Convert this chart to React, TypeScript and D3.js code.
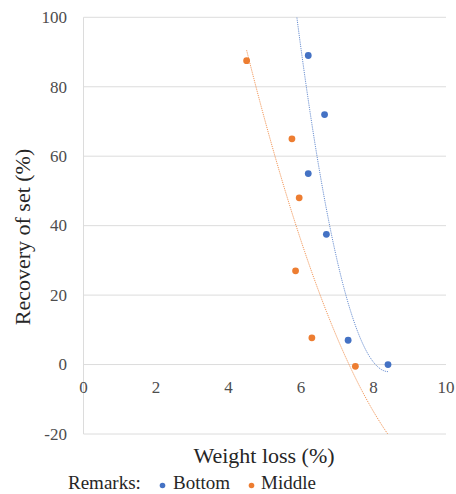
import React from "react";
import * as d3 from "d3";

// values
const bottomX = [6.2, 6.65, 6.2, 6.7, 7.3, 8.4];
const bottomY = [89, 72, 55, 37.5, 7, 0];
const middleX = [4.5, 5.75, 5.95, 5.85, 6.3, 7.5];
const middleY = [87.5, 65, 48, 27, 7.7, -0.5];

// trendline x extent (with forecast) for each series
const bottomTrend = [5.2, 8.4];
const middleTrend = [4.5, 8.5];

const xTicks = [0, 2, 4, 6, 8, 10];
const yTicks = [-20, 0, 20, 40, 60, 80, 100];

const BLUE = "#4472C4";
const ORANGE = "#ED7D31";

const width = 456;
const height = 494;
const plot = { left: 83.5, right: 446, top: 17.3, bottom: 434 };

// least squares fit y = c0 + c1 x + c2 x^2
function quadFit(xs: number[], ys: number[]) {
  const mx = d3.mean(xs) as number;
  const u = xs.map((x) => x - mx);
  const n = xs.length;
  const s2 = d3.sum(u, (v) => v * v);
  const s3 = d3.sum(u, (v) => v * v * v);
  const s4 = d3.sum(u, (v) => v * v * v * v);
  const sy = d3.sum(ys);
  const suy = d3.sum(u, (v, i) => v * ys[i]);
  const su2y = d3.sum(u, (v, i) => v * v * ys[i]);
  // solve 3x3 system (sum u = 0)
  const A = [
    [n, 0, s2],
    [0, s2, s3],
    [s2, s3, s4],
  ];
  const b = [sy, suy, su2y];
  for (let i = 0; i < 3; i++) {
    for (let k = i + 1; k < 3; k++) {
      const f = A[k][i] / A[i][i];
      for (let j = i; j < 3; j++) A[k][j] -= f * A[i][j];
      b[k] -= f * b[i];
    }
  }
  const c = [0, 0, 0];
  for (let i = 2; i >= 0; i--) {
    let s = b[i];
    for (let j = i + 1; j < 3; j++) s -= A[i][j] * c[j];
    c[i] = s / A[i][i];
  }
  return (x: number) => c[0] + c[1] * (x - mx) + c[2] * (x - mx) * (x - mx);
}

export default function App() {
  const x = d3.scaleLinear().domain([0, 10]).range([plot.left, plot.right]);
  const y = d3.scaleLinear().domain([-20, 100]).range([plot.bottom, plot.top]);

  const series = [
    { name: "Bottom", xs: bottomX, ys: bottomY, color: BLUE, range: bottomTrend },
    { name: "Middle", xs: middleX, ys: middleY, color: ORANGE, range: middleTrend },
  ];

  const line = d3
    .line<number[]>()
    .x((d) => x(d[0]))
    .y((d) => y(d[1]));

  return (
    <svg
      width={width}
      height={height}
      fontFamily="Liberation Serif"
      style={{ position: "absolute", left: 0, top: 0, background: "#fff", fontFamily: "Liberation Serif" }}
    >
      <defs>
        <clipPath id="plotClip">
          <rect x={plot.left} y={plot.top} width={plot.right - plot.left} height={plot.bottom - plot.top} />
        </clipPath>
      </defs>

      {yTicks.map((t) => (
        <g key={t}>
          <line x1={plot.left} x2={plot.right} y1={y(t)} y2={y(t)} stroke="#dcdcdc" strokeWidth={1} />
          <text x={67} y={y(t)} dy="0.34em" textAnchor="end" fontSize={17} fill="#4d4d4d">
            {t}
          </text>
        </g>
      ))}
      <line x1={x(0)} x2={x(0)} y1={plot.top} y2={plot.bottom} stroke="#dcdcdc" strokeWidth={1} />

      {xTicks.map((t) => (
        <text key={t} x={x(t)} y={y(0) + 28} textAnchor="middle" fontSize={17} fill="#4d4d4d">
          {t}
        </text>
      ))}

      <g clipPath="url(#plotClip)">
        {series.map((s) => {
          const f = quadFit(s.xs, s.ys);
          const pts = d3.range(0, 121).map((i) => {
            const xv = s.range[0] + ((s.range[1] - s.range[0]) * i) / 120;
            return [xv, f(xv)];
          });
          return (
            <path
              key={s.name}
              d={line(pts) || ""}
              fill="none"
              stroke={s.color}
              strokeWidth={1}
              strokeDasharray="1.2 1"
              opacity={0.8}
            />
          );
        })}
      </g>

      {series.map((s) =>
        s.xs.map((xv, i) => (
          <circle key={s.name + i} cx={x(xv)} cy={y(s.ys[i])} r={3.4} fill={s.color} />
        ))
      )}

      <text x={264} y={463} textAnchor="middle" fontSize={22} fill="#262626">
        Weight loss (%)
      </text>
      <text transform="translate(30, 237) rotate(-90)" textAnchor="middle" fontSize={22} fill="#262626">
        Recovery of set (%)
      </text>

      <text x={68} y={489} fontSize={19} fill="#262626">
        Remarks:
      </text>
      <circle cx={162.5} cy={485.5} r={2.8} fill={BLUE} />
      <text x={173} y={489} fontSize={19} fill="#262626">
        Bottom
      </text>
      <circle cx={251.5} cy={485.5} r={2.8} fill={ORANGE} />
      <text x={261} y={489} fontSize={19} fill="#262626">
        Middle
      </text>
    </svg>
  );
}
